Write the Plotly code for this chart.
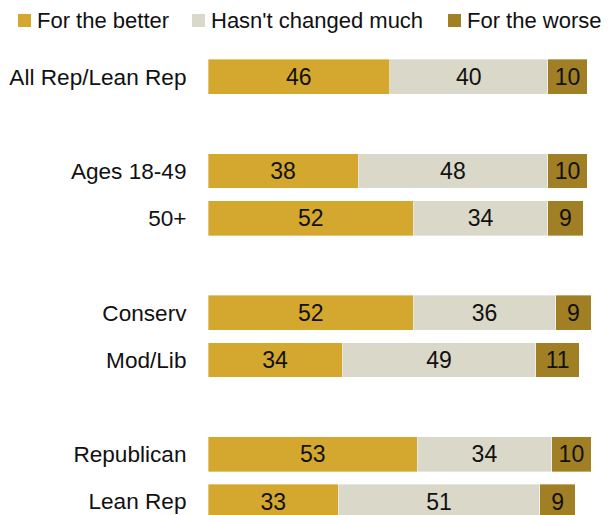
import plotly.graph_objects as go

# Survey groups, with blank rows separating the blocks
groups = ["All Rep/Lean Rep", "Ages 18-49", "50+", "Conserv", "Mod/Lib", "Republican", "Lean Rep"]
row_pos = [0, 2, 3, 5, 6, 8, 9]

better = [46, 38, 52, 52, 34, 53, 33]
unchanged = [40, 48, 34, 36, 49, 34, 51]
worse = [10, 10, 9, 9, 11, 10, 9]

series_names = ["For the better", "Hasn't changed much", "For the worse"]
series_values = [better, unchanged, worse]
series_colors = ["#D4A72F", "#DAD8C8", "#A07F25"]

FONT = "Liberation Sans, Arial, sans-serif"

fig = go.Figure()
for name, vals, color in zip(series_names, series_values, series_colors):
    fig.add_trace(go.Bar(
        name=name,
        x=vals,
        y=row_pos,
        orientation="h",
        width=0.735,
        marker=dict(color=color, line=dict(width=0.6, color="rgba(255,255,255,0.6)")),
        text=[str(v) for v in vals],
        textposition="inside",
        insidetextanchor="middle",
        textfont=dict(color="#111111", size=23, family=FONT),
        hoverinfo="skip",
        showlegend=False,
    ))

# Legend row across the top: swatch + label for each series
W, H, L, T = 615, 515, 208, 43
plot_w, plot_h = W - L - 12, H - T


def px_x(px):
    return (px - L) / plot_w


def px_y(py):
    return (H - py) / plot_h


swatch_left = [18, 192, 448]
label_left = [35, 209, 465]
for name, color, sx, lx in zip(series_names, series_colors, swatch_left, label_left):
    fig.add_shape(
        type="rect", xref="paper", yref="paper",
        x0=px_x(sx), x1=px_x(sx + 13), y0=px_y(27), y1=px_y(14),
        fillcolor=color, line=dict(width=0),
    )
    fig.add_annotation(
        xref="paper", yref="paper", x=px_x(lx), y=px_y(21),
        xanchor="left", yanchor="middle", text=name, showarrow=False,
        font=dict(size=22, family=FONT, color="#111111"),
    )

fig.update_layout(
    barmode="stack",
    width=W,
    height=H,
    margin=dict(l=L, r=12, t=T, b=0, pad=0),
    paper_bgcolor="white",
    plot_bgcolor="white",
    font=dict(family=FONT, size=22, color="#111111"),
    showlegend=False,
    xaxis=dict(range=[0, 100], visible=False, fixedrange=True),
    yaxis=dict(
        range=[9.286, -0.714],
        tickvals=row_pos,
        ticktext=groups,
        showgrid=False,
        zeroline=False,
        showline=False,
        ticks="outside",
        ticklen=16,
        tickcolor="rgba(0,0,0,0)",
        tickfont=dict(size=22.6, family=FONT, color="#111111"),
        fixedrange=True,
    ),
)

fig.write_html("out.html")
